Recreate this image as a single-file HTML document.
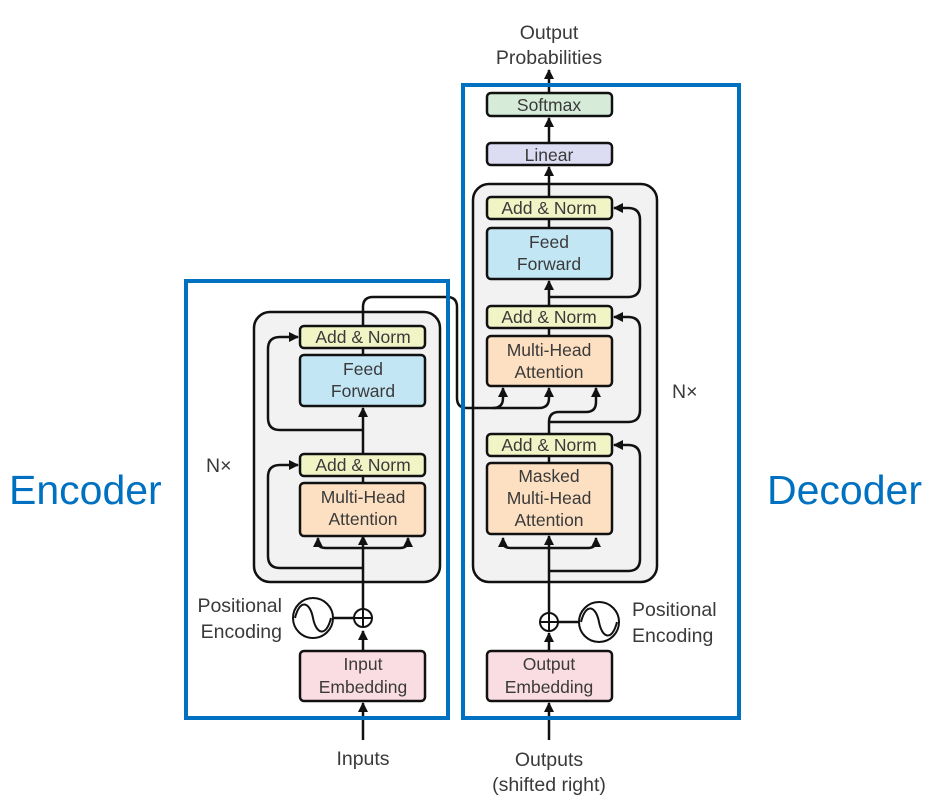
<!DOCTYPE html>
<html><head><meta charset="utf-8"><style>
html,body{margin:0;padding:0;background:#fff;}
svg{display:block;}
text{font-family:"Liberation Sans",sans-serif;fill:#3a3a3a;}
</style></head><body>
<svg width="935" height="808" viewBox="0 0 935 808" xmlns="http://www.w3.org/2000/svg">
<defs>
<marker id="a" viewBox="0 0 10 10" refX="9" refY="5" markerWidth="4" markerHeight="4" orient="auto-start-reverse"><path d="M0,0L10,5L0,10z" fill="#111"/></marker>
</defs>
<rect x="254" y="312" width="186" height="270" rx="16" fill="#f2f2f2" stroke="#111" stroke-width="2.5"/>
<rect x="473" y="184" width="184" height="398" rx="16" fill="#f2f2f2" stroke="#111" stroke-width="2.5"/>

<g fill="none" stroke="#111" stroke-width="2.5">
<line x1="363" y1="740" x2="363" y2="703" marker-end="url(#a)"/>
<line x1="363" y1="651" x2="363" y2="631" marker-end="url(#a)"/>
<line x1="363" y1="609" x2="363" y2="536" marker-end="url(#a)"/>
<line x1="363" y1="483" x2="363" y2="476"/>
<line x1="363" y1="454" x2="363" y2="408" marker-end="url(#a)"/>
<line x1="363" y1="355" x2="363" y2="348"/>
<path d="M363,568 H280 Q268,568 268,556 V477 Q268,465 280,465 H298" marker-end="url(#a)"/>
<path d="M363,430 H280 Q268,430 268,418 V349 Q268,337 280,337 H298" marker-end="url(#a)"/>
<path d="M318,538 V542 Q318,548 326,548 H400 Q408,548 408,540 V538" marker-start="url(#a)" marker-end="url(#a)"/>
<line x1="333" y1="618" x2="354" y2="618"/>
<path d="M363,326 V307 Q363,297 373,297 H447 Q457,297 457,307 V398 Q457,408 467,408 H493 Q503,408 503,398 V388" marker-end="url(#a)"/>
<path d="M493,408 H539 Q549,408 549,398 V388" marker-end="url(#a)"/>
<line x1="549" y1="740" x2="549" y2="703" marker-end="url(#a)"/>
<line x1="549" y1="651" x2="549" y2="633" marker-end="url(#a)"/>
<line x1="549" y1="613" x2="549" y2="536" marker-end="url(#a)"/>
<line x1="549" y1="463" x2="549" y2="456"/>
<path d="M549,434 V422 Q549,412 559,412 H586 Q596,412 596,402 V388" marker-end="url(#a)"/>
<line x1="549" y1="336" x2="549" y2="328"/>
<line x1="549" y1="306" x2="549" y2="281" marker-end="url(#a)"/>
<line x1="549" y1="228" x2="549" y2="219"/>
<line x1="549" y1="197" x2="549" y2="167" marker-end="url(#a)"/>
<line x1="549" y1="143" x2="549" y2="118" marker-end="url(#a)"/>
<line x1="549" y1="93" x2="549" y2="70" marker-end="url(#a)"/>
<path d="M503,538 V542 Q503,548 511,548 H588 Q596,548 596,540 V538" marker-start="url(#a)" marker-end="url(#a)"/>
<path d="M549,571 H628 Q640,571 640,559 V457 Q640,445 628,445 H614" marker-end="url(#a)"/>
<path d="M549,422 H628 Q640,422 640,410 V329 Q640,317 628,317 H614" marker-end="url(#a)"/>
<path d="M549,297 H628 Q640,297 640,285 V220 Q640,208 628,208 H614" marker-end="url(#a)"/>
<line x1="558" y1="622" x2="579" y2="622"/>
</g>

<g stroke="#111" stroke-width="2.5">
<rect x="300" y="326" width="125" height="22" rx="4" fill="#f1f4c5"/>
<rect x="300" y="355" width="125" height="51" rx="4" fill="#c3e6f5"/>
<rect x="300" y="454" width="125" height="22" rx="4" fill="#f1f4c5"/>
<rect x="300" y="483" width="125" height="53" rx="4" fill="#fde0c2"/>
<rect x="300" y="651" width="125" height="50" rx="4" fill="#fadde2"/>
<rect x="487" y="93" width="125" height="23" rx="4" fill="#d6ecd8"/>
<rect x="487" y="143" width="125" height="22" rx="4" fill="#dcdcf2"/>
<rect x="487" y="197" width="125" height="22" rx="4" fill="#f1f4c5"/>
<rect x="487" y="228" width="125" height="51" rx="4" fill="#c3e6f5"/>
<rect x="487" y="306" width="125" height="22" rx="4" fill="#f1f4c5"/>
<rect x="487" y="336" width="125" height="50" rx="4" fill="#fde0c2"/>
<rect x="487" y="434" width="125" height="22" rx="4" fill="#f1f4c5"/>
<rect x="487" y="463" width="125" height="71" rx="4" fill="#fde0c2"/>
<rect x="487" y="651" width="125" height="50" rx="4" fill="#fadde2"/>
</g>
<g fill="#fff" stroke="#111" stroke-width="2">
<circle cx="363" cy="618" r="9"/>
<circle cx="549" cy="622" r="9"/>
<circle cx="313" cy="618" r="20"/>
<circle cx="599" cy="622" r="20"/>
</g>
<g fill="none" stroke="#111" stroke-width="2">
<path d="M354,618H372M363,609V627M540,622H558M549,613V631"/>
<path d="M295,618 C300,598 310,602 313,618 C316,634 326,638 331,618"/>
<path d="M581,622 C586,602 596,606 599,622 C602,638 612,642 617,622"/>
</g>

<g font-size="17.5" text-anchor="middle">
<text x="363" y="343">Add &amp; Norm</text>
<text x="363" y="375">Feed</text><text x="363" y="397">Forward</text>
<text x="363" y="471">Add &amp; Norm</text>
<text x="363" y="503">Multi-Head</text><text x="363" y="525">Attention</text>
<text x="363" y="670">Input</text><text x="363" y="693">Embedding</text>
<text x="549" y="111">Softmax</text>
<text x="549" y="161">Linear</text>
<text x="549" y="214">Add &amp; Norm</text>
<text x="549" y="248">Feed</text><text x="549" y="270">Forward</text>
<text x="549" y="323">Add &amp; Norm</text>
<text x="549" y="356">Multi-Head</text><text x="549" y="378">Attention</text>
<text x="549" y="451">Add &amp; Norm</text>
<text x="549" y="482">Masked</text><text x="549" y="504">Multi-Head</text><text x="549" y="526">Attention</text>
<text x="549" y="670">Output</text><text x="549" y="693">Embedding</text>
</g>
<g font-size="19.5" text-anchor="middle">
<text x="363" y="765">Inputs</text>
<text x="549" y="766">Outputs</text><text x="549" y="791">(shifted right)</text>
<text x="549" y="39">Output</text><text x="549" y="64">Probabilities</text>
</g>
<g font-size="19.5">
<text x="282" y="612" text-anchor="end">Positional</text>
<text x="282" y="638" text-anchor="end">Encoding</text>
<text x="632" y="616">Positional</text>
<text x="632" y="642">Encoding</text>
<text x="206" y="472">N×</text>
<text x="672" y="398">N×</text>
</g>
<g font-size="41">
<text x="9" y="504" style="fill:#0070c0">Encoder</text>
<text x="767" y="504" style="fill:#0070c0">Decoder</text>
</g>
<rect x="186" y="281" width="262" height="437" fill="none" stroke="#0070c0" stroke-width="4"/>
<rect x="463" y="85" width="276" height="633" fill="none" stroke="#0070c0" stroke-width="4"/>
</svg>
</body></html>
